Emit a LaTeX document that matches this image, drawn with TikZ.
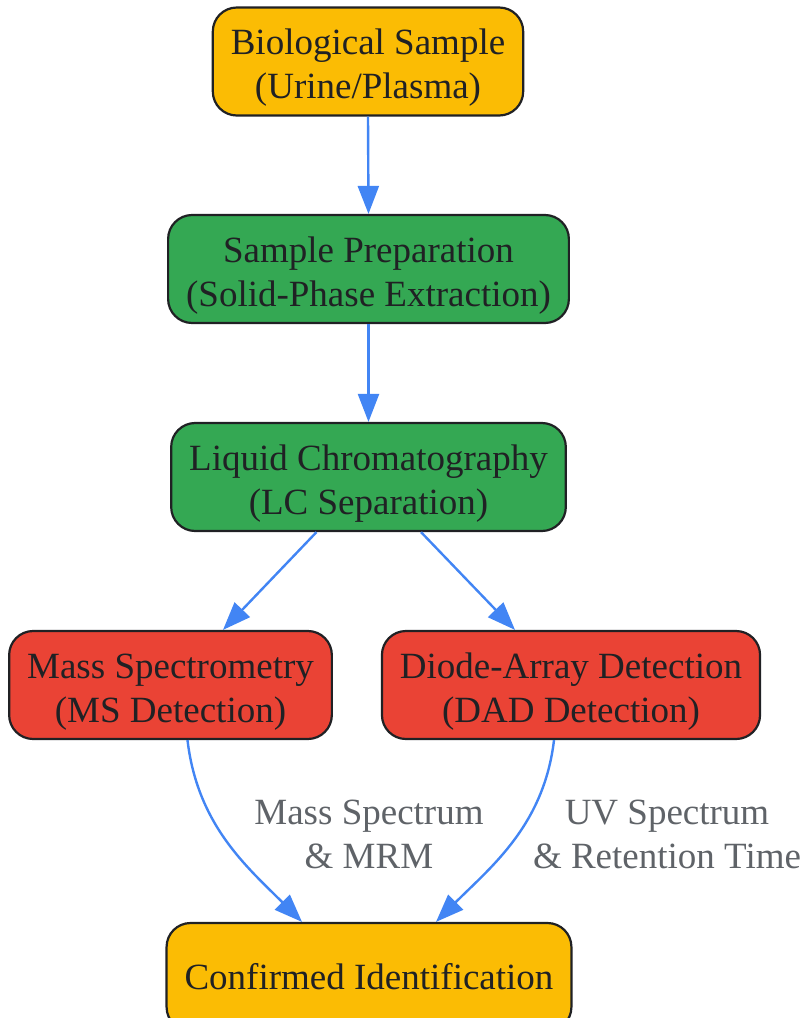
\documentclass[tikz,border=0pt]{standalone}
\usepackage{fontspec}
\setmainfont{Liberation Serif}
\usepackage{xcolor}
\usepackage{tikz}
\usetikzlibrary{positioning, calc, arrows.meta}
\newcommand{\toproom}{\rule{0pt}{38pt}}

\begin{document}
\begin{tikzpicture}[x=1pt, y=-1pt,
    stage/.style={draw=boxline, line width=2.2pt, rounded corners=24pt, align=center,
        text=inktext, minimum height=108pt, inner xsep=18pt,
        font=\fontsize{37}{44}\selectfont},
    flow/.style={draw=flowblue, line width=2.4pt, -{Triangle[length=28pt, width=21pt]}},
    note/.style={align=center, text=notegray, font=\fontsize{37}{44}\selectfont}]
        % Colours
        \definecolor{sampleorange}{RGB}{251, 188, 4}
        \definecolor{prepgreen}{RGB}{52, 168, 83}
        \definecolor{detectred}{RGB}{234, 67, 53}
        \definecolor{flowblue}{RGB}{66, 133, 244}
        \definecolor{boxline}{RGB}{32, 33, 36}
        \definecolor{inktext}{RGB}{32, 33, 36}
        \definecolor{notegray}{RGB}{95, 99, 104}

        \useasboundingbox (0, 0) rectangle (804, 1018);

        % 1. Stages of the workflow
        \node[stage, fill=sampleorange] (bio) at (368, 61.5) {\toproom Biological Sample\\(Urine/Plasma)};
        \node[stage, fill=prepgreen] (prep) at (368.5, 269) {\toproom Sample Preparation\\(Solid-Phase Extraction)};
        \node[stage, fill=prepgreen] (lc) at (368.5, 477) {\toproom Liquid Chromatography\\(LC Separation)};

        % 2. The two detectors
        \node[stage, fill=detectred] (ms) at (170.5, 685) {\toproom Mass Spectrometry\\(MS Detection)};
        \node[stage, fill=detectred] (dad) at (571, 685) {\toproom Diode-Array Detection\\(DAD Detection)};

        % 3. Result
        \node[stage, fill=sampleorange] (ident) at (369, 977) {Confirmed Identification};

        % Arrows between stages
        \draw[flow] (bio.south) -- (prep.north);
        \draw[flow] (prep.south) -- (lc.north);
        \draw[flow] ([xshift=-52pt]lc.south) -- ([xshift=52.5pt]ms.north);
        \draw[flow] ([xshift=52.5pt]lc.south) -- ([xshift=-56pt]dad.north);

        % Curved arrows into the result, with their labels
        \draw[flow] ([xshift=17pt]ms.south) .. controls +(10, 85) and +(-55, -55) .. ([xshift=-67pt]ident.north);
        \draw[flow] ([xshift=-17pt]dad.south) .. controls +(-10, 85) and +(55, -55) .. ([xshift=67pt]ident.north);
        \node[note] (msnote) at (369, 834) {Mass Spectrum\\\& MRM};
        \node[note] (dadnote) at (667, 834) {UV Spectrum\\\& Retention Time};

    \end{tikzpicture}
\end{document}
